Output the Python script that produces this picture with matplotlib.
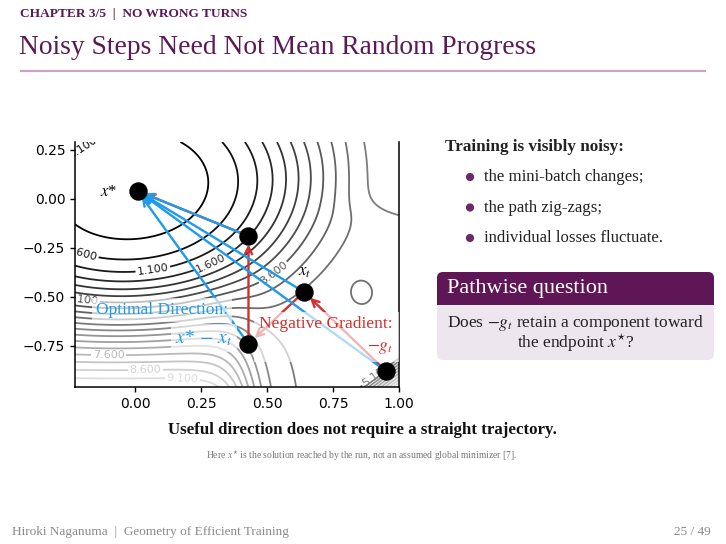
import numpy as np
import matplotlib
matplotlib.use("Agg")
import matplotlib.pyplot as plt
from matplotlib.patches import FancyBboxPatch, Rectangle, Circle

# ---------------- data ----------------
# points on the trajectory
pt_labels = ["x_star", "A", "x_t", "B", "C"]
pt_x = [0.01, 0.43, 0.64, 0.43, 0.95]
pt_y = [0.04, -0.19, -0.475, -0.74, -0.878]
# red steps (negative gradients): from -> to (indices into the points)
grad_from = [4, 2, 3, 1]
grad_to = [2, 3, 1, 0]
# blue arrows: optimal direction from each point to x*
opt_from = [1, 2, 3, 4]

xticks = [0.0, 0.25, 0.5, 0.75, 1.0]
yticks = [0.25, 0.0, -0.25, -0.5, -0.75]
xlim = [-0.227, 1.0]
ylim = [-0.96, 0.29]

# loss landscape parameters (approximate look of the background)
bowl_center = [-0.01, 0.06]
bowl_angle_deg = 35.0
bowl_axes = [1.08, 1.0]
bowl_scale = 14.66
bowl_power = 3.0
bowl_offset = -0.2
plateau = 5.2
left_ramp = [10.5, -0.52, 0.10, 0.42, 0.05]     # slope, y0, width, x_cut, x_width
corner_ramp = [32.0, 1.81]                      # slope, threshold on (x - y)
dip = [-0.6, 0.86, -0.48, 0.04, 0.06]           # depth, x, y, x width, y width
upper_bump = [0.5, 0.80, -0.05, 0.04]           # height, x0, y0, width
contour_levels = np.arange(0.1, 12.0, 0.5)
# where contour labels sit (near these data points)
label_x = [-0.19, -0.20, 0.07, 0.29, 0.52, -0.20, -0.10, 0.04, 0.18, 0.87]
label_y = [0.24, -0.27, -0.38, -0.33, -0.37, -0.53, -0.79, -0.86, -0.92, -0.82]

PURPLE = "#5E1656"
TITLE_PURPLE = "#5A1A56"
BLUE = "#1E9BEA"
RED = "#D0312D"

plt.rcParams["font.family"] = ["Liberation Serif", "DejaVu Serif"]
plt.rcParams["mathtext.fontset"] = "stix"

fig = plt.figure(figsize=(7.26, 5.44), dpi=100)

# ---------------- slide background / text layer ----------------
bg = fig.add_axes([0, 0, 1, 1])
bg.set_xlim(0, 726)
bg.set_ylim(544, 0)
bg.axis("off")

bg.text(20, 14, "CHAPTER 3/5  |  NO WRONG TURNS", fontsize=9.6, fontweight="bold",
        color=TITLE_PURPLE, va="center", ha="left")
bg.text(19, 48, "Noisy Steps Need Not Mean Random Progress", fontsize=19.8,
        color=TITLE_PURPLE, va="center", ha="left")
bg.plot([20, 706], [71, 71], color="#C7A3C4", lw=1.6, solid_capstyle="butt")

bg.text(445, 147, "Training is visibly noisy:", fontsize=12.3, fontweight="bold",
        color="#222222", va="center", ha="left")
bullets = ["the mini-batch changes;", "the path zig-zags;", "individual losses fluctuate."]
for i, b in enumerate(bullets):
    yb = 177 + i * 30.5
    bg.add_patch(Circle((470, yb), 3.4, color="#6A2B66"))
    bg.text(484, yb, b, fontsize=12.1, color="#222222", va="center", ha="left")

# block
bg.add_patch(FancyBboxPatch((437, 272), 277, 88, boxstyle="round,pad=0,rounding_size=6",
                            facecolor="#EEE6EF", edgecolor="none"))
bg.add_patch(FancyBboxPatch((437, 272), 277, 40, boxstyle="round,pad=0,rounding_size=6",
                            facecolor=PURPLE, edgecolor="none"))
bg.add_patch(Rectangle((437, 305), 277, 12, facecolor="#EEE6EF", edgecolor="none"))
bg.text(447, 289, "Pathwise question", fontsize=16, color="white", va="center", ha="left")
bg.text(575.5, 323, r"Does $-g_t$ retain a component toward", fontsize=12.5,
        color="#222222", va="center", ha="center")
bg.text(575.5, 343, r"the endpoint $x^{\star}$?", fontsize=12.5,
        color="#222222", va="center", ha="center")

bg.text(362, 430, "Useful direction does not require a straight trajectory.", fontsize=12.2,
        fontweight="bold", color="#111111", va="center", ha="center")
bg.text(362, 456, r"Here $x^{\star}$ is the solution reached by the run, not an assumed global minimizer [7].",
        fontsize=6.9, color="#777777", va="center", ha="center")

bg.text(12, 532, "Hiroki Naganuma  |  Geometry of Efficient Training", fontsize=9.5,
        color="#8A8A8A", va="center", ha="left")
bg.text(711, 532, "25 / 49", fontsize=9.5, color="#8A8A8A", va="center", ha="right")

# ---------------- chart ----------------
ax = fig.add_axes([75 / 726, 1 - 387 / 544, (399 - 75) / 726, (387 - 142) / 544])
ax.set_xlim(*xlim)
ax.set_ylim(*ylim)

gx = np.linspace(xlim[0], xlim[1], 400)
gy = np.linspace(ylim[0], ylim[1], 400)
X, Y = np.meshgrid(gx, gy)
th = np.deg2rad(bowl_angle_deg)
dx, dy = X - bowl_center[0], Y - bowl_center[1]
m = dx * np.cos(th) + dy * np.sin(th)
n = -dx * np.sin(th) + dy * np.cos(th)
r = np.sqrt((m / bowl_axes[0]) ** 2 + (n / bowl_axes[1]) ** 2)
Bw = bowl_scale * r ** bowl_power
F = plateau * np.tanh(Bw / plateau) + bowl_offset
sig = lambda z: 1 / (1 + np.exp(-z))
sp = lambda z: np.log1p(np.exp(z))
F += left_ramp[0] * left_ramp[2] * sp((left_ramp[1] - Y) / left_ramp[2]) * sig((left_ramp[3] - X) / left_ramp[4])
F += corner_ramp[0] * np.maximum(0, (X - Y) - corner_ramp[1])
F += dip[0] * np.exp(-((X - dip[1]) ** 2 / (2 * dip[3] ** 2) + (Y - dip[2]) ** 2 / (2 * dip[4] ** 2)))
F += upper_bump[0] * sig((X - upper_bump[1]) / upper_bump[3]) * sig((Y - upper_bump[2]) / upper_bump[3])

cs = ax.contour(X, Y, F, levels=contour_levels, cmap="gray", vmin=0, vmax=10.5,
                linewidths=1.3, zorder=1)
clabels = ax.clabel(cs, fmt="%.3f", fontsize=8, inline=True, manual=list(zip(label_x, label_y)))
for t in clabels:
    t.set_fontfamily("DejaVu Sans")

# arrows
for i in opt_from:
    ax.annotate("", xy=(pt_x[0], pt_y[0]), xytext=(pt_x[i], pt_y[i]),
                arrowprops=dict(arrowstyle="->", color=BLUE, lw=1.7,
                                shrinkA=0, shrinkB=5, mutation_scale=13), zorder=3)
for a, b in zip(grad_from, grad_to):
    ax.annotate("", xy=(pt_x[b], pt_y[b]), xytext=(pt_x[a], pt_y[a]),
                arrowprops=dict(arrowstyle="->", color=RED, lw=1.7,
                                shrinkA=0, shrinkB=6, mutation_scale=13), zorder=2.5)

ax.scatter(pt_x, pt_y, s=150, color="black", zorder=5)

boxkw = dict(facecolor="white", alpha=0.65, edgecolor="none", pad=3)
ax.text(-0.10, 0.036, r"$x$*", fontsize=12, ha="center", va="center", zorder=6)
ax.text(0.644, -0.372, r"$x_t$", fontsize=12, ha="center", va="center", zorder=6)
ax.text(0.352, -0.566, "Optimal Direction:", fontsize=12.5, color=BLUE, ha="right", va="center",
        zorder=4, bbox=boxkw)
ax.text(0.37, -0.71, r"$x$*$\,-\,x_t$", fontsize=14, color=BLUE, ha="right", va="center",
        zorder=4, bbox=boxkw)
ax.text(0.977, -0.70, "Negative Gradient:\n$-g_t$", fontsize=12.6, color=RED, ha="right",
        va="center", multialignment="right", linespacing=1.5, zorder=4,
        bbox=dict(facecolor="white", alpha=0.65, edgecolor="none", pad=4))

ax.set_xticks(xticks)
ax.set_yticks(yticks)
ax.set_xticklabels([f"{t:.2f}" for t in xticks], family="DejaVu Sans", fontsize=10)
ax.set_yticklabels([f"{t:.2f}".replace("-", "\u2212") for t in yticks], family="DejaVu Sans", fontsize=10)
ax.spines["top"].set_visible(False)
for s in ["left", "right", "bottom"]:
    ax.spines[s].set_linewidth(1.1)
ax.tick_params(length=3.5, width=1.0)

fig.savefig("out.png", dpi=100)
